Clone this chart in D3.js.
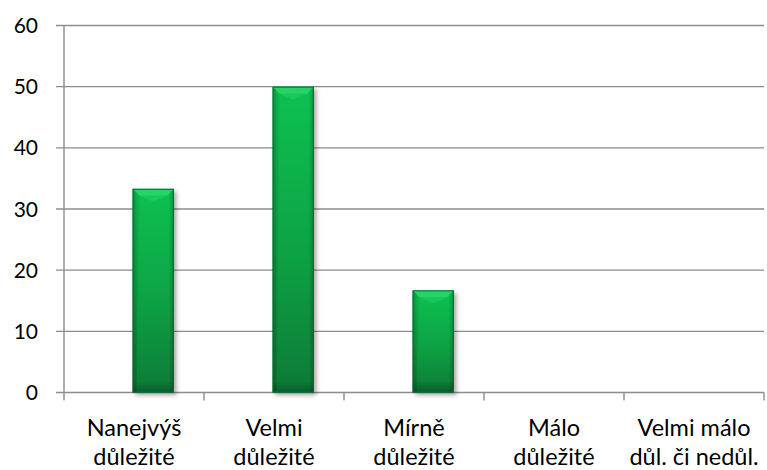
<!DOCTYPE html>
<html>
<head>
<meta charset="utf-8">
<script src="https://cdn.jsdelivr.net/npm/d3@7/dist/d3.min.js"></script>
<style>
  html, body { margin: 0; padding: 0; background: #fff; }
  svg { display: block; }
  text { font-family: Lato, "Open Sans", sans-serif; fill: #000; }
</style>
</head>
<body>
<svg id="chart" width="767" height="470"></svg>
<script>
// Categories (two-line labels) and percentage values
const categories = ["Nanejvýš důležité", "Velmi důležité", "Mírně důležité", "Málo důležité", "Velmi málo důl. či nedůl."];
const labelLines = [
  ["Nanejvýš", "důležité"],
  ["Velmi", "důležité"],
  ["Mírně", "důležité"],
  ["Málo", "důležité"],
  ["Velmi málo", "důl. či nedůl."]
];
const values = [33.3, 50, 16.7, 0, 0];
const yTicks = [0, 10, 20, 30, 40, 50, 60];

const svg = d3.select("#chart");
const margin = { left: 64, right: 3, top: 25.5, bottom: 77.5 };
const W = 767, H = 470;

const x = d3.scaleBand()
  .domain(categories)
  .range([margin.left, W - margin.right])
  .padding(0);

const y = d3.scaleLinear()
  .domain([0, 60])
  .range([H - margin.bottom, margin.top]);

const gridColor = "#8c8c8c";

// defs: gradients and shadow
const defs = svg.append("defs");
const vg = defs.append("linearGradient").attr("id", "barV").attr("x1", 0).attr("y1", 0).attr("x2", 0).attr("y2", 1);
vg.append("stop").attr("offset", "0%").attr("stop-color", "#0fc152");
vg.append("stop").attr("offset", "55%").attr("stop-color", "#0aa244");
vg.append("stop").attr("offset", "100%").attr("stop-color", "#0a7a37");

const hg = defs.append("linearGradient").attr("id", "barH").attr("x1", 0).attr("y1", 0).attr("x2", 1).attr("y2", 0);
hg.append("stop").attr("offset", "0%").attr("stop-color", "#000").attr("stop-opacity", 0.22);
hg.append("stop").attr("offset", "12%").attr("stop-color", "#000").attr("stop-opacity", 0.0);
hg.append("stop").attr("offset", "88%").attr("stop-color", "#000").attr("stop-opacity", 0.0);
hg.append("stop").attr("offset", "100%").attr("stop-color", "#000").attr("stop-opacity", 0.25);

const bottomG = defs.append("linearGradient").attr("id", "barB").attr("x1", 0).attr("y1", 0).attr("x2", 0).attr("y2", 1);
bottomG.append("stop").attr("offset", "0%").attr("stop-color", "#000").attr("stop-opacity", 0.0);
bottomG.append("stop").attr("offset", "100%").attr("stop-color", "#000").attr("stop-opacity", 0.25);

const shadow = defs.append("filter").attr("id", "shadow").attr("x", "-20%").attr("y", "-20%").attr("width", "150%").attr("height", "150%");
shadow.append("feDropShadow").attr("dx", 2.5).attr("dy", 2.5).attr("stdDeviation", 2.2)
  .attr("flood-color", "#000").attr("flood-opacity", 0.35);

// horizontal gridlines with left tick marks
svg.append("g")
  .selectAll("line")
  .data(yTicks)
  .join("line")
  .attr("x1", margin.left - 8)
  .attr("x2", W - margin.right)
  .attr("y1", d => y(d))
  .attr("y2", d => y(d))
  .attr("stroke", gridColor)
  .attr("stroke-width", 1.4);

// y axis line
svg.append("line")
  .attr("x1", margin.left).attr("x2", margin.left)
  .attr("y1", y(60)).attr("y2", y(0))
  .attr("stroke", gridColor).attr("stroke-width", 1.4);

// x axis tick marks at category boundaries
const boundaries = categories.map(c => x(c)).concat([x(categories[categories.length - 1]) + x.bandwidth()]);
svg.append("g")
  .selectAll("line")
  .data(boundaries)
  .join("line")
  .attr("x1", d => d).attr("x2", d => d)
  .attr("y1", y(0)).attr("y2", y(0) + 8)
  .attr("stroke", gridColor).attr("stroke-width", 1.4);

// y tick labels
svg.append("g")
  .selectAll("text")
  .data(yTicks)
  .join("text")
  .attr("x", 38)
  .attr("y", d => y(d))
  .attr("dy", "0.36em")
  .attr("text-anchor", "end")
  .attr("font-size", 21)
  .text(d => d);

// x category labels
const xl = svg.append("g")
  .selectAll("text")
  .data(categories)
  .join("text")
  .attr("x", d => x(d) + x.bandwidth() / 2)
  .attr("y", 436)
  .attr("text-anchor", "middle")
  .attr("font-size", 23.5);
xl.each(function (d, i) {
  const t = d3.select(this);
  labelLines[i].forEach((ln, k) => {
    t.append("tspan")
      .attr("x", x(d) + x.bandwidth() / 2)
      .attr("dy", k === 0 ? 0 : 29)
      .text(ln);
  });
});

// bars
const barW = x.bandwidth() * 0.295;
const barOff = x.bandwidth() * 0.49;
const bev = 7;
const data = categories.map((c, i) => ({ c, v: values[i] })).filter(d => d.v > 0);

const bars = svg.append("g")
  .selectAll("g")
  .data(data)
  .join("g");

bars.each(function (d) {
  const g = d3.select(this);
  const x0 = x(d.c) + barOff;
  const y0 = y(d.v);
  const h = y(0) - y0;
  g.append("rect")
    .attr("x", x0).attr("y", y0).attr("width", barW).attr("height", h)
    .attr("fill", "url(#barV)")
    .attr("filter", "url(#shadow)");
  g.append("rect")
    .attr("x", x0).attr("y", y0).attr("width", barW).attr("height", h)
    .attr("fill", "url(#barH)");
  // bottom darkening
  g.append("rect")
    .attr("x", x0).attr("y", y(0) - Math.min(12, h)).attr("width", barW).attr("height", Math.min(12, h))
    .attr("fill", "url(#barB)");
  // top bevel: lighter upper face and side facets
  g.append("path")
    .attr("d", `M${x0},${y0} L${x0 + barW},${y0} L${x0 + barW - bev},${y0 + bev} L${x0 + bev},${y0 + bev} Z`)
    .attr("fill", "#2fd96e").attr("opacity", 0.75);
  g.append("path")
    .attr("d", `M${x0 + bev},${y0 + bev} L${x0 + barW / 2},${y0 + bev + 6} L${x0 + barW - bev},${y0 + bev} Z`)
    .attr("fill", "#25d065").attr("opacity", 0.5);
  g.append("path")
    .attr("d", `M${x0},${y0} L${x0 + bev},${y0 + bev} L${x0 + bev * 0.6},${y0 + h} L${x0},${y0 + h} Z`)
    .attr("fill", "#000").attr("opacity", 0.06);
  g.append("rect")
    .attr("x", x0 + 0.5).attr("y", y0 + 0.5).attr("width", barW - 1).attr("height", h - 1)
    .attr("fill", "none").attr("stroke", "#0b6e33").attr("stroke-width", 1);
});
</script>
</body>
</html>
